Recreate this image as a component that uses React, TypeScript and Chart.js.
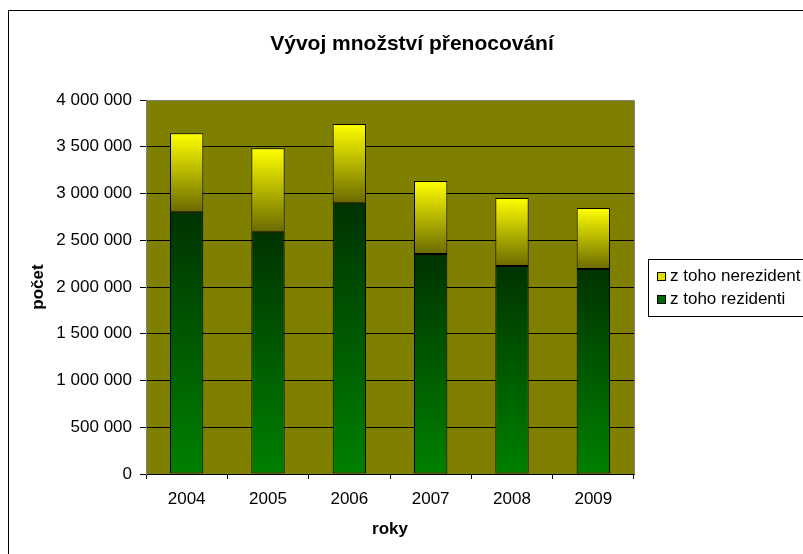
import React, { useEffect, useRef } from 'react';
import { Chart, registerables } from 'chart.js';

Chart.register(...registerables);

// ---- data ----
const years: string[] = ['2004', '2005', '2006', '2007', '2008', '2009'];
const rezidenti: number[] = [2805000, 2592000, 2902000, 2353000, 2225000, 2193000];
const nerezidenti: number[] = [839000, 891000, 841000, 781000, 727000, 652000];
const seriesLabels: string[] = ['z toho rezidenti', 'z toho nerezident'];
const chartTitle = 'Vývoj množství přenocování';
const xTitle = 'roky';
const yTitle = 'počet';
const yMax = 4000000;
const yStep = 500000;

const FONT = "'Liberation Sans', Arial, Helvetica, sans-serif";

const rezStops: [string, string] = ['#003300', '#008000'];
const nerezStops: [string, string] = ['#ffff00', '#6b6b00'];
const legendSwatch: string[] = ['#006600', '#e0e000'];

function fmt(v: number): string {
  return String(v).replace(/\B(?=(\d{3})+(?!\d))/g, ' ');
}

const makeGradient = (stops: [string, string]) => (c: any) => {
  const chart = c.chart;
  const y = chart.scales && chart.scales.y;
  if (c.type !== 'data' || !y || !chart.chartArea) return stops[1];
  const ds = chart.data.datasets;
  let base = 0;
  for (let k = 0; k < c.datasetIndex; k++) base += ds[k].data[c.dataIndex] as number;
  const v = ds[c.datasetIndex].data[c.dataIndex] as number;
  const top = y.getPixelForValue(base + v);
  const bot = y.getPixelForValue(base);
  if (!isFinite(top) || !isFinite(bot) || top === bot) return stops[1];
  const g = chart.ctx.createLinearGradient(0, top, 0, bot);
  g.addColorStop(0, stops[0]);
  g.addColorStop(1, stops[1]);
  return g;
};

const decor = {
  id: 'decor',
  beforeDraw(chart: any) {
    const { ctx, chartArea: a } = chart;
    ctx.save();
    ctx.fillStyle = '#ffffff';
    ctx.fillRect(0, 0, chart.width, chart.height);
    ctx.strokeStyle = '#000000';
    ctx.lineWidth = 1;
    ctx.strokeRect(8.5, 10.5, chart.width + 20, chart.height + 20);
    ctx.fillStyle = '#808000';
    ctx.fillRect(a.left, a.top, a.width, a.height);
    ctx.restore();
  },
  beforeDatasetsDraw(chart: any) {
    const { ctx, chartArea: a } = chart;
    ctx.save();
    ctx.strokeStyle = '#808080';
    ctx.lineWidth = 1;
    ctx.beginPath();
    ctx.moveTo(Math.round(a.left) + 0.5, Math.round(a.top) + 0.5);
    ctx.lineTo(Math.round(a.right) + 0.5, Math.round(a.top) + 0.5);
    ctx.lineTo(Math.round(a.right) + 0.5, Math.round(a.bottom) + 0.5);
    ctx.stroke();
    ctx.restore();
  },
  afterDraw(chart: any) {
    const { ctx } = chart;
    ctx.save();
    // title
    ctx.fillStyle = '#000000';
    ctx.font = `bold 21px ${FONT}`;
    ctx.textAlign = 'center';
    ctx.textBaseline = 'alphabetic';
    ctx.fillText(chartTitle, 412, 50);
    // legend
    const lx = 648, ly = 259, lh = 57;
    ctx.strokeStyle = '#000000';
    ctx.lineWidth = 1;
    ctx.strokeRect(lx + 0.5, ly + 0.5, 200, lh);
    ctx.font = `17px ${FONT}`;
    ctx.textAlign = 'left';
    ctx.textBaseline = 'middle';
    const ds = chart.data.datasets;
    const order = ds.map((_: any, i: number) => i).reverse();
    order.forEach((di: number, k: number) => {
      const cy = 276 + k * 23;
      ctx.fillStyle = legendSwatch[di];
      ctx.fillRect(657, cy - 4, 8, 8);
      ctx.strokeStyle = '#000000';
      ctx.strokeRect(657.5, cy - 3.5, 8, 8);
      ctx.fillStyle = '#000000';
      ctx.fillText(ds[di].label, 670, cy);
    });
    ctx.restore();
  },
};

export default function App() {
  const ref = useRef<HTMLCanvasElement | null>(null);
  useEffect(() => {
    if (!ref.current) return;
    Chart.defaults.font.family = FONT;
    Chart.defaults.color = '#000000';
    const chart = new Chart(ref.current, {
      type: 'bar',
      data: {
        labels: years,
        datasets: [
          {
            label: seriesLabels[0],
            data: rezidenti,
            backgroundColor: makeGradient(rezStops) as any,
            borderColor: '#000000',
            borderWidth: 1,
            borderSkipped: false,
            categoryPercentage: 1,
            barPercentage: 0.41,
          },
          {
            label: seriesLabels[1],
            data: nerezidenti,
            backgroundColor: makeGradient(nerezStops) as any,
            borderColor: '#000000',
            borderWidth: 1,
            borderSkipped: false,
            categoryPercentage: 1,
            barPercentage: 0.41,
          },
        ],
      },
      options: {
        responsive: false,
        animation: false,
        layout: { padding: { top: 100, right: 169, bottom: 0, left: 0 } },
        plugins: {
          legend: { display: false },
          title: { display: false },
          tooltip: { enabled: false },
        },
        scales: {
          x: {
            stacked: true,
            offset: true,
            afterFit: (s: any) => { s.height = 80; },
            grid: {
              offset: true,
              drawOnChartArea: false,
              drawTicks: true,
              tickLength: 5,
              color: '#000000',
            },
            border: { color: '#000000', width: 1 },
            ticks: { font: { size: 17 }, color: '#000000', padding: 10 },
            title: {
              display: true,
              text: xTitle,
              font: { size: 17, weight: 'bold' },
              color: '#000000',
              padding: { top: 0, bottom: 14 },
            },
          },
          y: {
            stacked: true,
            min: 0,
            max: yMax,
            afterFit: (s: any) => { s.width = 146; },
            grid: {
              color: '#000000',
              drawTicks: true,
              tickLength: 6,
            },
            border: { color: '#808080', width: 1 },
            ticks: {
              stepSize: yStep,
              font: { size: 17 },
              color: '#000000',
              padding: 8,
              callback: (v: any) => fmt(Number(v)),
            },
            title: {
              display: true,
              text: yTitle,
              font: { size: 17, weight: 'bold' },
              color: '#000000',
              padding: { top: 28, bottom: 0 },
            },
          },
        },
      },
      plugins: [decor],
    });
    return () => chart.destroy();
  }, []);
  return (
    <canvas
      ref={ref}
      width={803}
      height={554}
      style={{ position: 'absolute', left: 0, top: 0, display: 'block' }}
    />
  );
}
